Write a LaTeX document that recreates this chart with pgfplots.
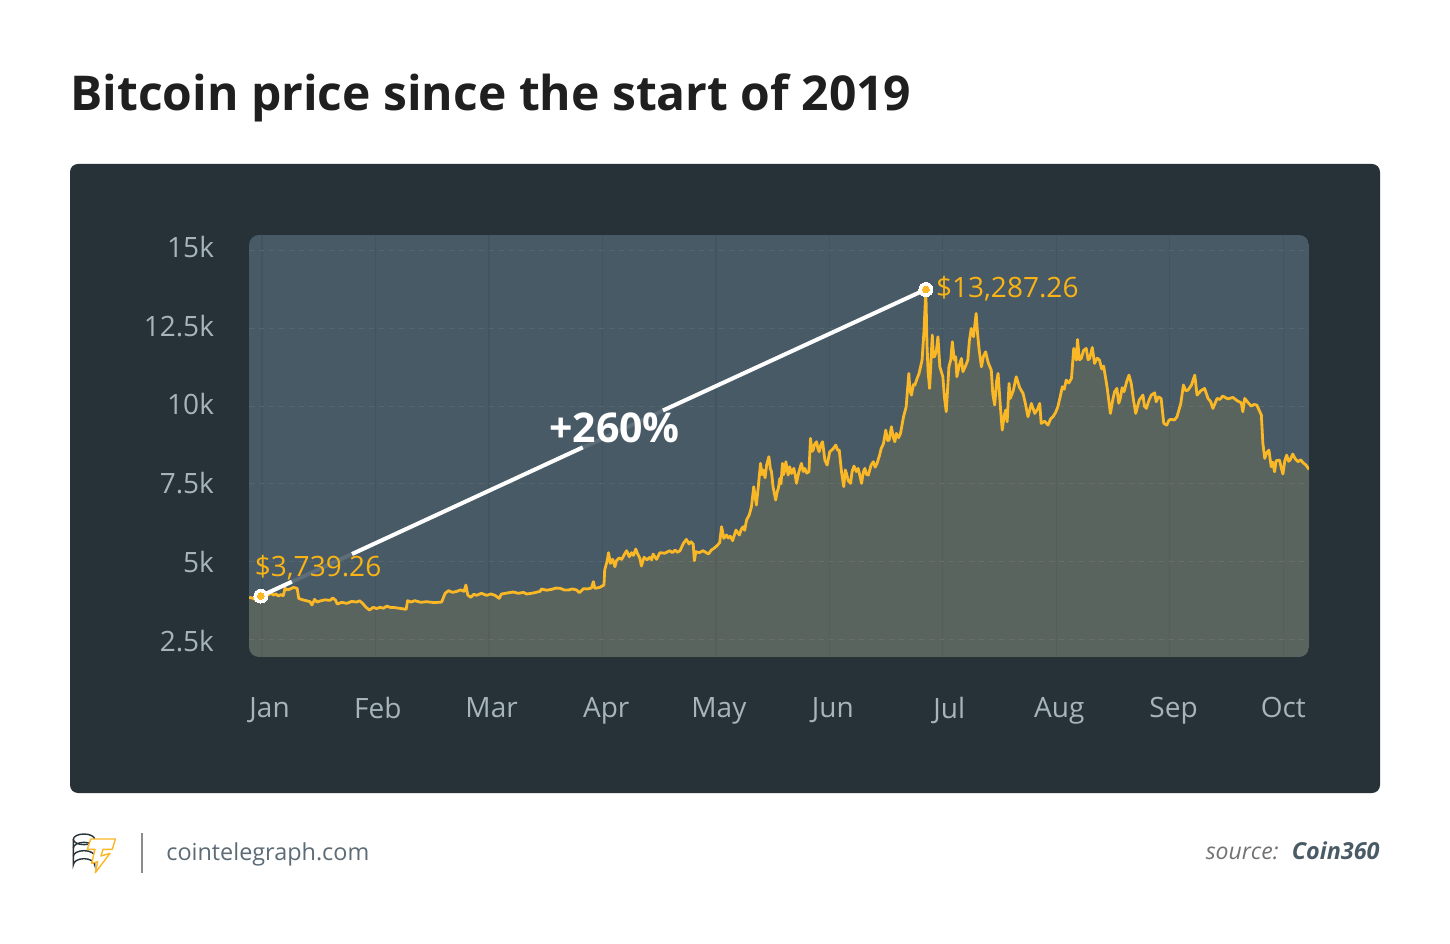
\documentclass[border=0pt]{standalone}
\usepackage{fontspec}
\setmainfont{Open Sans}
\usepackage{pgfplots}
\usepackage{pgfplotstable}
\pgfplotsset{compat=1.18}
\definecolor{card}{HTML}{263238}
\definecolor{panel}{HTML}{475A66}
\definecolor{btc}{HTML}{FBB826}
\definecolor{btclabel}{HTML}{F9B315}
\definecolor{ticktext}{HTML}{A7B4BA}
\definecolor{gridh}{HTML}{55666F}
\definecolor{gridv}{HTML}{415460}
\definecolor{foot}{HTML}{4A5B66}

% day of the year, price in USD
\pgfplotstableread[row sep=\\]{
d v\\
-3.4 3850\\ -2.6 3830\\ -1.9 3786\\ -1.1 3850\\ -0.3 3893\\ 0.7 3960\\ 1.7 3925\\ 2.3 3990\\ 3.0 3925\\ 3.7 3960\\ 4.3 3893\\ 5.0 3940\\ 5.6 3904\\
6.1 4140\\ 6.7 4090\\ 7.4 4118\\ 8.3 4170\\ 9.3 4140\\ 9.7 3818\\ 10.3 3790\\ 10.9 3765\\ 11.8 3740\\ 12.7 3711\\ 13.2 3604\\ 13.9 3786\\ 14.6 3700\\ 15.3 3732\\ 16.6 3770\\ 18.0 3754\\ 18.7 3829\\ 19.4 3765\\ 19.9 3636\\
21.1 3690\\ 22.4 3657\\ 23.7 3720\\ 25.0 3700\\ 25.8 3740\\ 26.6 3657\\ 27.5 3529\\ 28.4 3443\\ 29.4 3529\\ 30.3 3490\\ 31.2 3529\\ 32.1 3500\\ 33.0 3571\\ 33.8 3529\\ 35.1 3520\\ 36.5 3496\\ 38.1 3464\\ 38.5 3743\\
39.4 3700\\ 40.4 3743\\ 42.0 3690\\ 43.5 3711\\ 45.5 3680\\ 47.5 3700\\ 48.4 3979\\ 49.3 4065\\ 50.4 4010\\ 51.5 4043\\ 52.5 4090\\ 53.4 4043\\ 53.9 4247\\ 54.4 3925\\ 55.2 3850\\ 56.0 3950\\ 56.7 3915\\ 58.0 3980\\ 59.4 3915\\ 60.5 3960\\ 61.6 3915\\ 62.7 3818\\ 63.3 3958\\
64.8 3990\\ 66.4 4022\\ 67.8 3980\\ 69.1 4011\\ 70.0 3958\\ 71.7 3990\\ 73.5 4043\\ 73.9 4118\\ 75.2 4080\\ 76.6 4108\\ 77.7 4150\\ 78.8 4140\\ 79.9 4090\\ 81.0 4086\\ 82.1 4120\\ 83.2 4086\\ 83.9 4000\\ 85.0 4129\\ 86.0 4120\\ 87.1 4151\\ 87.6 4355\\ 88.0 4140\\ 89.3 4172\\
90.4 4248\\ 90.6 4730\\ 91.3 5052\\ 91.6 5288\\ 92.1 4945\\ 92.7 5074\\ 93.3 4837\\ 93.7 5031\\ 94.4 5120\\ 95.1 5074\\ 95.7 5213\\ 96.4 5352\\ 97.1 5159\\ 97.7 5288\\ 98.2 5200\\ 98.8 5406\\ 99.3 5250\\ 99.9 5106\\ 100.3 4859\\ 101.0 5138\\ 101.8 5060\\ 102.5 5138\\ 103.0 5060\\ 103.4 5245\\ 104.3 5074\\ 105.2 5288\\ 106.5 5270\\ 107.8 5352\\ 108.5 5290\\ 109.2 5374\\ 109.8 5300\\ 110.5 5352\\ 111.4 5588\\ 112.2 5717\\ 112.9 5567\\ 113.4 5640\\ 114.0 5567\\ 114.3 5031\\ 114.7 5320\\ 115.6 5290\\ 116.6 5352\\ 117.3 5300\\ 118.0 5245\\ 118.8 5374\\ 119.5 5430\\ 120.2 5503\\ 121.0 5610\\ 121.5 6125\\ 122.1 5749\\ 122.8 5857\\ 123.3 5760\\ 123.8 5820\\ 124.4 5674\\ 125.3 6017\\ 126.2 5857\\ 126.7 6040\\ 127.2 6125\\ 127.6 6010\\ 128.1 6339\\ 128.8 6500\\ 129.4 6768\\
130.0 7412\\ 130.7 6822\\ 131.2 7412\\ 131.8 8163\\ 132.2 7800\\ 132.5 7948\\ 133.0 7700\\ 133.4 8109\\ 134.0 8377\\ 134.4 7990\\ 134.7 7895\\ 135.1 7412\\ 135.8 6983\\ 136.2 7250\\ 136.5 7358\\ 136.9 7680\\ 137.2 7500\\ 137.6 8163\\ 137.9 7800\\ 138.2 7948\\ 138.5 8217\\ 139.1 7787\\ 139.5 8056\\ 140.0 7840\\ 140.6 8002\\ 141.0 7760\\ 141.3 7519\\ 141.8 7820\\ 142.2 8002\\ 142.6 8163\\ 143.1 7900\\ 143.5 8002\\ 144.0 7850\\ 144.6 7895\\ 145.0 8967\\ 145.4 8550\\ 145.7 8592\\ 146.1 8780\\ 146.6 8860\\ 147.0 8620\\ 147.3 8538\\ 147.8 8780\\ 148.2 8860\\ 148.8 8270\\ 149.4 8109\\ 150.1 8538\\ 150.9 8620\\ 151.7 8753\\ 152.2 8580\\ 152.6 8592\\ 153.2 7895\\ 153.8 7412\\ 154.2 7950\\ 154.5 7841\\ 155.0 7600\\ 155.6 7519\\ 156.0 7900\\ 156.5 8077\\ 157.1 7900\\ 157.6 8002\\ 158.1 7750\\ 158.5 7519\\ 159.0 7900\\ 159.4 8002\\ 159.8 7810\\ 160.3 7787\\ 161.0 8100\\ 161.6 8217\\ 162.1 8040\\ 162.6 8163\\ 163.2 8400\\ 163.7 8645\\ 164.3 8800\\ 164.9 9235\\ 165.4 8900\\ 165.8 8913\\ 166.4 9342\\ 166.9 9000\\ 167.3 8860\\ 167.7 9128\\ 168.3 8990\\ 168.8 9128\\ 169.6 9664\\
170.3 9986\\ 171.0 11059\\ 171.3 10500\\ 171.7 10361\\ 172.2 10700\\ 172.6 10683\\ 173.2 10900\\ 173.7 11059\\ 174.5 11488\\ 175.0 12400\\ 175.5 13740\\ 175.8 12000\\ 176.1 11100\\ 176.5 10576\\ 177.2 12292\\ 177.5 11600\\ 177.8 11595\\ 178.3 11800\\ 178.7 12239\\ 179.2 11273\\ 180.0 10951\\ 180.4 10300\\ 180.9 9825\\ 181.6 11273\\ 182.1 11500\\ 182.5 12078\\ 183.0 11500\\ 183.4 11595\\ 183.7 10951\\ 184.3 11300\\ 184.9 11541\\ 185.3 11112\\ 186.0 11300\\ 186.6 11488\\ 187.0 12100\\ 187.5 12507\\ 188.1 12239\\ 188.8 12989\\ 189.2 12300\\ 189.6 11809\\ 190.2 11273\\ 190.7 11600\\ 191.3 11756\\ 192.0 11400\\ 192.8 11166\\ 193.2 10400\\ 193.7 10040\\ 194.2 10800\\ 194.6 11059\\ 195.2 10000\\ 195.7 9235\\ 196.2 9700\\ 196.6 9878\\ 197.0 9500\\ 197.5 10737\\ 197.8 10254\\ 198.6 10500\\ 199.4 10951\\ 200.3 10600\\ 201.2 10415\\ 201.8 10100\\ 202.5 9664\\ 203.0 9900\\ 203.4 10093\\ 204.3 9771\\ 205.0 9900\\ 205.6 10093\\ 206.0 9450\\ 206.9 9520\\ 207.8 9396\\ 208.5 9600\\ 209.1 9664\\ 209.8 9800\\ 210.4 9986\\ 211.0 10300\\ 211.6 10630\\ 212.1 10550\\ 212.6 10844\\ 213.3 10750\\ 214.0 10898\\ 214.6 11863\\ 215.3 11488\\ 215.6 12153\\ 216.1 11500\\ 216.6 11541\\ 217.2 11800\\ 217.9 11863\\ 218.4 11500\\ 218.8 11541\\ 219.5 11895\\ 220.1 11380\\ 220.8 11550\\ 221.4 11488\\ 222.0 11200\\ 222.5 11295\\ 223.4 10630\\ 224.3 9771\\ 224.9 10200\\ 225.4 10469\\ 226.0 10576\\ 226.5 10100\\ 226.9 10254\\ 227.4 10600\\ 227.9 10469\\ 228.6 10800\\ 229.2 11005\\ 229.8 10737\\ 230.4 10200\\ 231.0 9771\\ 231.9 10200\\ 232.9 10361\\ 233.3 10000\\ 233.8 9932\\ 234.5 10200\\ 235.1 10361\\ 236.0 10436\\ 236.4 10147\\ 237.0 10300\\ 237.7 10254\\ 238.4 9450\\ 239.2 9396\\ 239.8 9560\\ 240.4 9578\\ 241.2 9560\\ 241.9 9664\\ 242.9 10093\\ 243.6 10683\\ 244.2 10500\\ 244.8 10522\\ 245.7 10680\\ 246.6 11005\\ 247.2 10361\\ 248.2 10500\\ 249.2 10576\\ 250.1 10254\\ 250.8 10150\\ 251.4 9932\\ 252.5 10254\\ 253.2 10220\\ 254.0 10329\\ 255.3 10240\\ 256.7 10286\\ 257.8 10180\\ 258.9 10115\\ 259.3 9825\\ 259.8 10254\\ 260.7 10120\\ 261.5 10008\\ 262.3 10060\\ 263.0 10040\\ 264.2 9718\\ 264.6 8806\\ 265.1 8323\\ 265.6 8500\\ 266.2 8591\\ 266.8 8055\\ 267.2 8200\\ 267.7 7894\\ 268.1 8248\\ 269.0 8270\\ 269.5 8000\\ 269.9 7819\\ 270.4 8250\\ 270.9 8430\\ 271.4 8230\\ 271.8 8270\\ 272.5 8463\\ 273.2 8300\\ 273.9 8216\\ 274.6 8280\\ 275.2 8184\\ 276.0 8110\\ 276.8 7969\\
}\btcdata

\pgfplotsset{
  common/.style={
    scale only axis, width=530pt, height=211pt,
    at={(124.5pt,143pt)}, anchor=south west,
    xmin=-3.44, xmax=276.8, ymin=1930, ymax=15515,
    axis line style={draw=none}, major tick length=0pt,
    scaled ticks=false,
  },
}

\begin{document}
\begin{tikzpicture}
\useasboundingbox (0pt,0pt) rectangle (725pt,471.5pt);
\fill[white] (0pt,0pt) rectangle (725pt,471.5pt);
\fill[card, rounded corners=4pt] (35pt,75pt) rectangle (690pt,389.5pt);

\node[anchor=base west, font=\bfseries\fontsize{24}{28}\selectfont, text=black!88, inner sep=0pt]
  at (35pt,416pt) {Bitcoin price since the start of 2019};

% rounded plot panel, price area and grid
\begin{scope}
\clip[rounded corners=5pt] (124.5pt,143pt) rectangle (654.5pt,354pt);
\begin{axis}[common,
  axis background/.style={fill=panel},
  xtick={0,30,...,270}, ytick={2500,5000,...,15000},
  xticklabels={}, yticklabels={},
  xmajorgrids, ymajorgrids,
  x grid style={gridv, line width=.6pt},
  y grid style={gridh, line width=.5pt, dash pattern=on 2.5pt off 2.5pt},
]
\addplot[draw=none, fill=btc, fill opacity=.11] table[x=d,y=v] {\btcdata} \closedcycle;
\addplot[btc, line width=1.4pt, line join=round] table[x=d,y=v] {\btcdata};
\end{axis}
\end{scope}

% tick labels and the +260% annotation
\begin{axis}[common,
  clip=false,
  xtick={2,30.6,60.7,91,120.8,150.9,181.7,210.8,241,270},
  xticklabels={Jan,Feb,Mar,Apr,May,Jun,Jul,Aug,Sep,Oct},
  ytick={2445,4987,7530,10072,12582,15124},
  yticklabels={2.5k,5k,7.5k,10k,12.5k,15k},
  tick label style={font=\fontsize{14}{16}\selectfont, text=ticktext},
  yticklabel shift=14pt, xticklabel shift=16.5pt,
]
\addplot[white, opacity=.12, line width=2pt] coordinates {(-0.3,3893) (175.5,13762)};
\addplot[white, line width=2pt] coordinates {(-0.3,3893) (7.9,4354)};
\addplot[white, line width=2pt] coordinates {(23.8,5245) (84.8,8679)};
\addplot[white, line width=2pt] coordinates {(106,9866) (175.5,13762)};
\addplot[white, only marks, mark=*, mark size=3.5pt, mark options={draw=white, fill=white, line width=0pt}]
  coordinates {(-0.3,3893) (175.5,13762)};
\addplot[btc, only marks, mark=*, mark size=1.7pt, mark options={draw=btc, fill=btc, line width=0pt}]
  coordinates {(-0.3,3893) (175.5,13762)};
\node[anchor=west, inner sep=0pt, text=btclabel, font=\fontsize{14}{16}\selectfont]
  at (axis cs:-2,4800) {\$3,739.26};
\node[anchor=west, inner sep=0pt, text=btclabel, font=\fontsize{14}{16}\selectfont]
  at (axis cs:178.1,13800) {\$13,287.26};
\node[text=white, inner sep=0pt, font=\bfseries\fontsize{20.5}{23}\selectfont]
  at (axis cs:93.2,9300) {+260\%};
\end{axis}

% footer
\fill[black!45] (70.6pt,35pt) rectangle (71.4pt,55pt);
\node[anchor=base west, inner sep=0pt, text=foot!90, font=\fontsize{11.7}{14}\selectfont]
  at (83pt,41.5pt) {cointelegraph.com};
\node[anchor=base east, inner sep=0pt, text=black!55, font=\itshape\fontsize{11.5}{14}\selectfont]
  at (639.5pt,42pt) {source:};
\node[anchor=base east, inner sep=0pt, text=foot, font=\bfseries\itshape\fontsize{11.7}{14}\selectfont]
  at (690pt,42pt) {Coin360};

% logo, in 3x crop units
\begin{scope}[shift={(30pt,61.5pt)}, x=.16667pt, y=-.16667pt]
\draw[card, line width=.7pt] (72,58) ellipse (32 and 16);
\draw[card, line width=.7pt] (40,58) -- (40,135) arc[start angle=180, end angle=360, x radius=32, y radius=19] -- (104,58);
\draw[card, line width=.7pt] (40,84) arc[start angle=180, end angle=360, x radius=32, y radius=17];
\draw[card, line width=.7pt] (40,109) arc[start angle=180, end angle=360, x radius=32, y radius=17];
\draw[btc, fill=white, line width=.7pt, line join=round]
  (92,57) -- (166,57) -- (157,88) -- (129,88) -- (123,108) -- (150,100)
  -- (106,158) -- (113,125) -- (95,130) -- (105,88) -- (82,88) -- cycle;
\end{scope}
\end{tikzpicture}
\end{document}
